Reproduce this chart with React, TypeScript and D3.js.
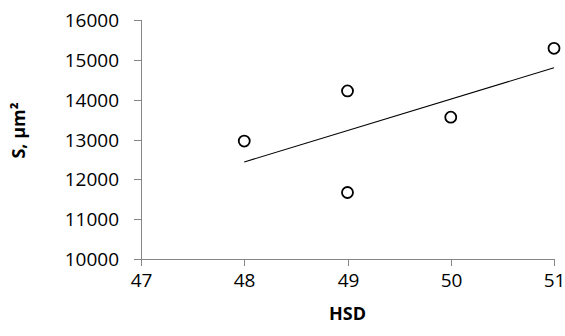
import { useMemo } from 'react';
import * as d3 from 'd3';

const WIDTH = 565;
const HEIGHT = 336;
const MARGIN = { top: 20, right: 11, bottom: 77, left: 141 };

// HSD vs area values
const hsdValues = [48, 49, 49, 50, 51];
const areaValues = [12960, 14220, 11670, 13560, 15290];
const xTicks = [47, 48, 49, 50, 51];
const yTicks = [10000, 11000, 12000, 13000, 14000, 15000, 16000];

const FONT = "'Open Sans', 'DejaVu Sans', sans-serif";
const AXIS_COLOR = '#868686';

export default function App() {
  const boundsWidth = WIDTH - MARGIN.left - MARGIN.right;
  const boundsHeight = HEIGHT - MARGIN.top - MARGIN.bottom;

  const xScale = useMemo(
    () => d3.scaleLinear().domain([47, 51]).range([0, boundsWidth]),
    [boundsWidth]
  );
  const yScale = useMemo(
    () => d3.scaleLinear().domain([10000, 16000]).range([boundsHeight, 0]),
    [boundsHeight]
  );

  // linear trend line (least squares)
  const trend = useMemo(() => {
    const mx = d3.mean(hsdValues)!;
    const my = d3.mean(areaValues)!;
    const sxy = d3.sum(hsdValues.map((x, i) => (x - mx) * (areaValues[i] - my)));
    const sxx = d3.sum(hsdValues.map((x) => (x - mx) * (x - mx)));
    const slope = sxy / sxx;
    const intercept = my - slope * mx;
    const x0 = d3.min(hsdValues)!;
    const x1 = d3.max(hsdValues)!;
    return [
      [x0, intercept + slope * x0],
      [x1, intercept + slope * x1],
    ] as [number, number][];
  }, []);

  const line = d3
    .line<[number, number]>()
    .x((d) => xScale(d[0]))
    .y((d) => yScale(d[1]));

  return (
    <div style={{ position: 'absolute', left: 0, top: 0 }}>
      <style>{`body{margin:0}`}</style>
      <svg width={WIDTH} height={HEIGHT} style={{ display: 'block', background: '#fff' }}>
        <g transform={`translate(${MARGIN.left}, ${MARGIN.top})`}>
          {/* y axis */}
          <line x1={0.5} x2={0.5} y1={0} y2={boundsHeight} stroke={AXIS_COLOR} />
          {yTicks.map((t) => (
            <g key={t} transform={`translate(0, ${Math.round(yScale(t)) + 0.5})`}>
              <line x1={-7} x2={0} stroke={AXIS_COLOR} />
              <text
                x={-22}
                dy="0.36em"
                textAnchor="end"
                style={{ fontFamily: FONT, fontSize: 19, fill: '#000' }}
              >
                {t}
              </text>
            </g>
          ))}

          {/* x axis */}
          <line x1={0} x2={boundsWidth} y1={boundsHeight + 0.5} y2={boundsHeight + 0.5} stroke={AXIS_COLOR} />
          {xTicks.map((t) => (
            <g key={t} transform={`translate(${Math.round(xScale(t)) + 0.5}, ${boundsHeight})`}>
              <line y1={0} y2={7} stroke={AXIS_COLOR} />
              <text
                y={28}
                textAnchor="middle"
                style={{ fontFamily: FONT, fontSize: 19, fill: '#000' }}
              >
                {t}
              </text>
            </g>
          ))}

          {/* trend line */}
          <path d={line(trend) ?? ''} fill="none" stroke="#000" strokeWidth={1.1} />

          {/* points */}
          {hsdValues.map((x, i) => (
            <circle
              key={i}
              cx={xScale(x)}
              cy={yScale(areaValues[i])}
              r={5.5}
              fill="#fff"
              stroke="#000"
              strokeWidth={1.8}
            />
          ))}

          {/* axis titles */}
          <text
            x={boundsWidth / 2}
            y={boundsHeight + 61}
            textAnchor="middle"
            style={{ fontFamily: FONT, fontSize: 18, fontWeight: 700, fill: '#000' }}
          >
            HSD
          </text>
          <text
            transform={`translate(${-116}, ${boundsHeight / 2 - 9}) rotate(-90)`}
            textAnchor="middle"
            style={{ fontFamily: FONT, fontSize: 18, fontWeight: 700, fill: '#000' }}
          >
            S, μm²
          </text>
        </g>
      </svg>
    </div>
  );
}
